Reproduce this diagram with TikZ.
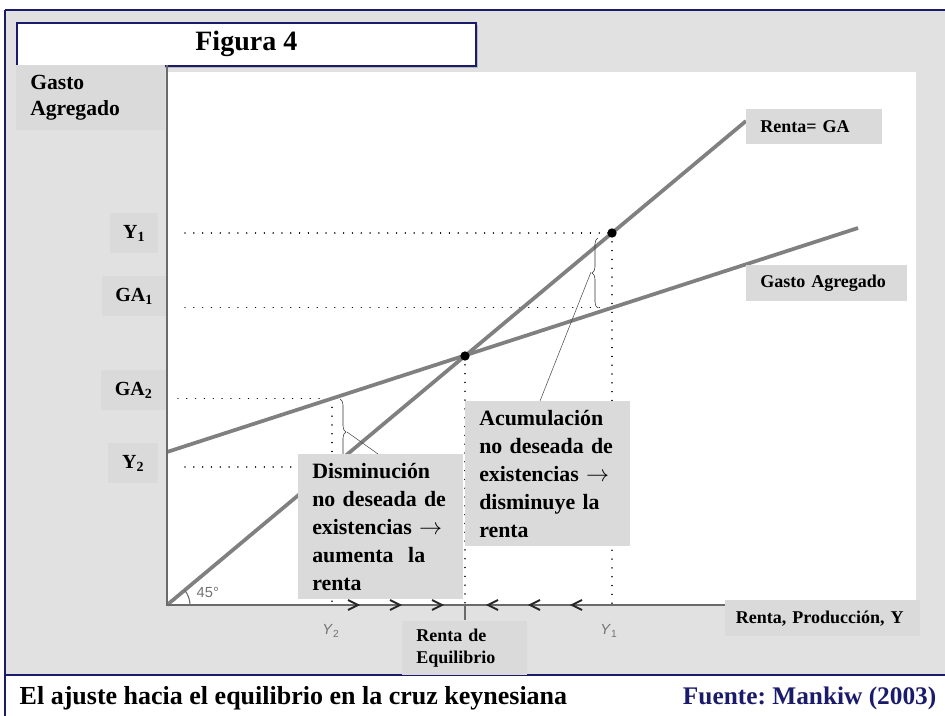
\documentclass[tikz,border=0pt]{standalone}
\usepackage{fontspec}
\setmainfont{Liberation Serif}
\setsansfont{Liberation Sans}
\usepackage{xcolor}
\usetikzlibrary{positioning, calc, decorations.pathreplacing}

\definecolor{panelgray}{HTML}{E1E1E1}
\definecolor{labelgray}{HTML}{DADADA}
\definecolor{curvegray}{HTML}{808080}
\definecolor{axisgray}{HTML}{6A6A6A}
\definecolor{navy}{HTML}{1B1B6B}

\begin{document}
\frenchspacing
\begin{tikzpicture}[x=0.75pt, y=-0.75pt,
  frame/.style={draw=navy, line width=1.2pt},
  curve/.style={draw=curvegray, line width=2.8pt},
  axis/.style={draw=axisgray, line width=1.5pt},
  guide/.style={line width=1.1pt, line cap=round, dash pattern=on 0.01pt off 6.6pt},
  chev/.style={line width=1.4pt, black!85},
  dot/.style={circle, fill=black, inner sep=0pt, minimum size=7pt},
  note/.style={anchor=north west, fill=labelgray, inner xsep=10.5pt, inner ysep=0pt, align=left},
  tag/.style={anchor=north west, fill=labelgray, inner sep=0pt, align=center, font=\bfseries\fontsize{15}{18}\selectfont},
  small/.style={font=\bfseries\fontsize{13.5}{16.5}\selectfont},
  big/.style={font=\bfseries\fontsize{16.4}{21}\selectfont},
  ticklbl/.style={font=\sffamily\fontsize{11}{13}\selectfont, text=black!55},
  brace/.style={decorate, decoration={brace, amplitude=4.5pt}, thin, black!80},
  leader/.style={thin, black!70}
]
\useasboundingbox (0,0) rectangle (945,716);

% panel and frame
\fill[panelgray] (5,10) rectangle (945,675);
\draw[frame] (5,10) -- (945,10);
\draw[frame] (5,675) -- (945,675);
\draw[frame] (5,10) -- (5,716);
\fill[white] (167,72) rectangle (916,605);

% title box
\fill[gray!55] (19,25) rectangle (478,68);
\node[frame, fill=white, anchor=north west, minimum width=344.25pt, minimum height=32.25pt, inner sep=0pt,
      font=\bfseries\fontsize{21}{24}\selectfont] (title) at (16,22) {Figura 4};

% key points
\coordinate (O) at (167,605);
\coordinate (Rend) at (746,121);
\coordinate (Gstart) at (167,452);
\coordinate (Gend) at (858,228);
\coordinate (Eq) at (465,356);
\coordinate (P1) at (612,233);
\coordinate (Q1) at (612,307.6);
\coordinate (P2) at (332,467);
\coordinate (Q2) at (332,398.5);

% guide lines
\draw[guide] (185,233) -- (P1);
\draw[guide] (185,307.6) -- (Q1);
\draw[guide] (178,398.5) -- (Q2);
\draw[guide] (185,467) -- (P2);
\draw[guide] (Q2) -- (332,605);
\draw[guide] (Eq) -- (465,605);
\draw[guide] (P1) -- (612,605);

% curves
\draw[curve] (O) -- (Rend);
\draw[curve] (Gstart) -- (Gend);
\node[dot] (eqdot) at (Eq) {};
\node[dot] (ydot) at (P1) {};

% braces and leaders
\draw[brace] (598,308) -- (598,238);
\draw[brace] (340,399) -- (340,465);
\coordinate (tipA) at (591,272);
\coordinate (tipB) at (347,432);

% axes
\draw[axis] (167,65) -- (O) -- (725,605);
\draw[axisgray, line width=1pt] (465,605) -- (465,620);
\draw[axisgray, line width=0.8pt] (O) ++(17.25pt,0) arc[start angle=0, end angle=40, radius=17.25pt];
\node[ticklbl, anchor=west] (deg) at (192,592) {45°};
\foreach \cx in {353,395,437} \draw[chev] (\cx-5,600) -- (\cx+5,605) -- (\cx-5,610);
\foreach \cx in {493,535,577} \draw[chev] (\cx+5,600) -- (\cx-5,605) -- (\cx+5,610);
\node[ticklbl] (ytwo) at (331,631) {\textit{Y}\textsubscript{2}};
\node[ticklbl] (yone) at (609,631) {\textit{Y}\textsubscript{1}};

% notes
\node[note, big, text width=102.75pt, minimum height=108.75pt] (acum) at (465,401)
  {Acumulación\\no deseada de\\existencias \(\rightarrow\)\\disminuye la\\renta};
\node[note, big, text width=102.75pt, minimum height=108.75pt] (dism) at (298,454)
  {Disminución\\no deseada de\\existencias \(\rightarrow\)\\aumenta\ \ la\\renta};
\draw[leader] (tipA) -- ($(acum.north west)+(75,0)$);
\draw[leader] (tipB) -- ($(dism.north west)+(80,0)$);

% axis labels
\node[note, font=\bfseries\fontsize{16.2}{19.5}\selectfont, text width=90.75pt, minimum height=48.75pt] (gasto) at (16,65) {Gasto\\Agregado};
\node[tag, minimum width=36pt, minimum height=30pt] (lyone) at (110,213) {Y\textsubscript{1}};
\node[tag, minimum width=48pt, minimum height=30pt] (lgaone) at (102,276) {GA\textsubscript{1}};
\node[tag, minimum width=48.75pt, minimum height=30pt] (lgatwo) at (101,370) {GA\textsubscript{2}};
\node[tag, minimum width=37.5pt, minimum height=30pt] (lytwo) at (108,443) {Y\textsubscript{2}};
\node[note, small, text width=81pt, minimum height=26.25pt] (renta) at (746,109) {Renta= GA};
\node[note, small, text width=99.75pt, minimum height=27pt] (galbl) at (746,265) {Gasto Agregado};
\node[note, small, inner xsep=8pt, text width=130.25pt, minimum height=27pt] (prod) at (725,600) {Renta, Producción, Y};
\node[note, small, text width=72.75pt, minimum height=40.5pt] (equil) at (402,621) {Renta de\\Equilibrio};

% caption
\node[anchor=west, font=\bfseries\fontsize{19.5}{22}\selectfont] (caption) at (15,698)
  {El ajuste hacia el equilibrio en la cruz keynesiana};
\node[anchor=east, text=navy, font=\bfseries\fontsize{19}{22}\selectfont] (source) at (941,698)
  {Fuente: Mankiw (2003)};
\end{tikzpicture}
\end{document}
